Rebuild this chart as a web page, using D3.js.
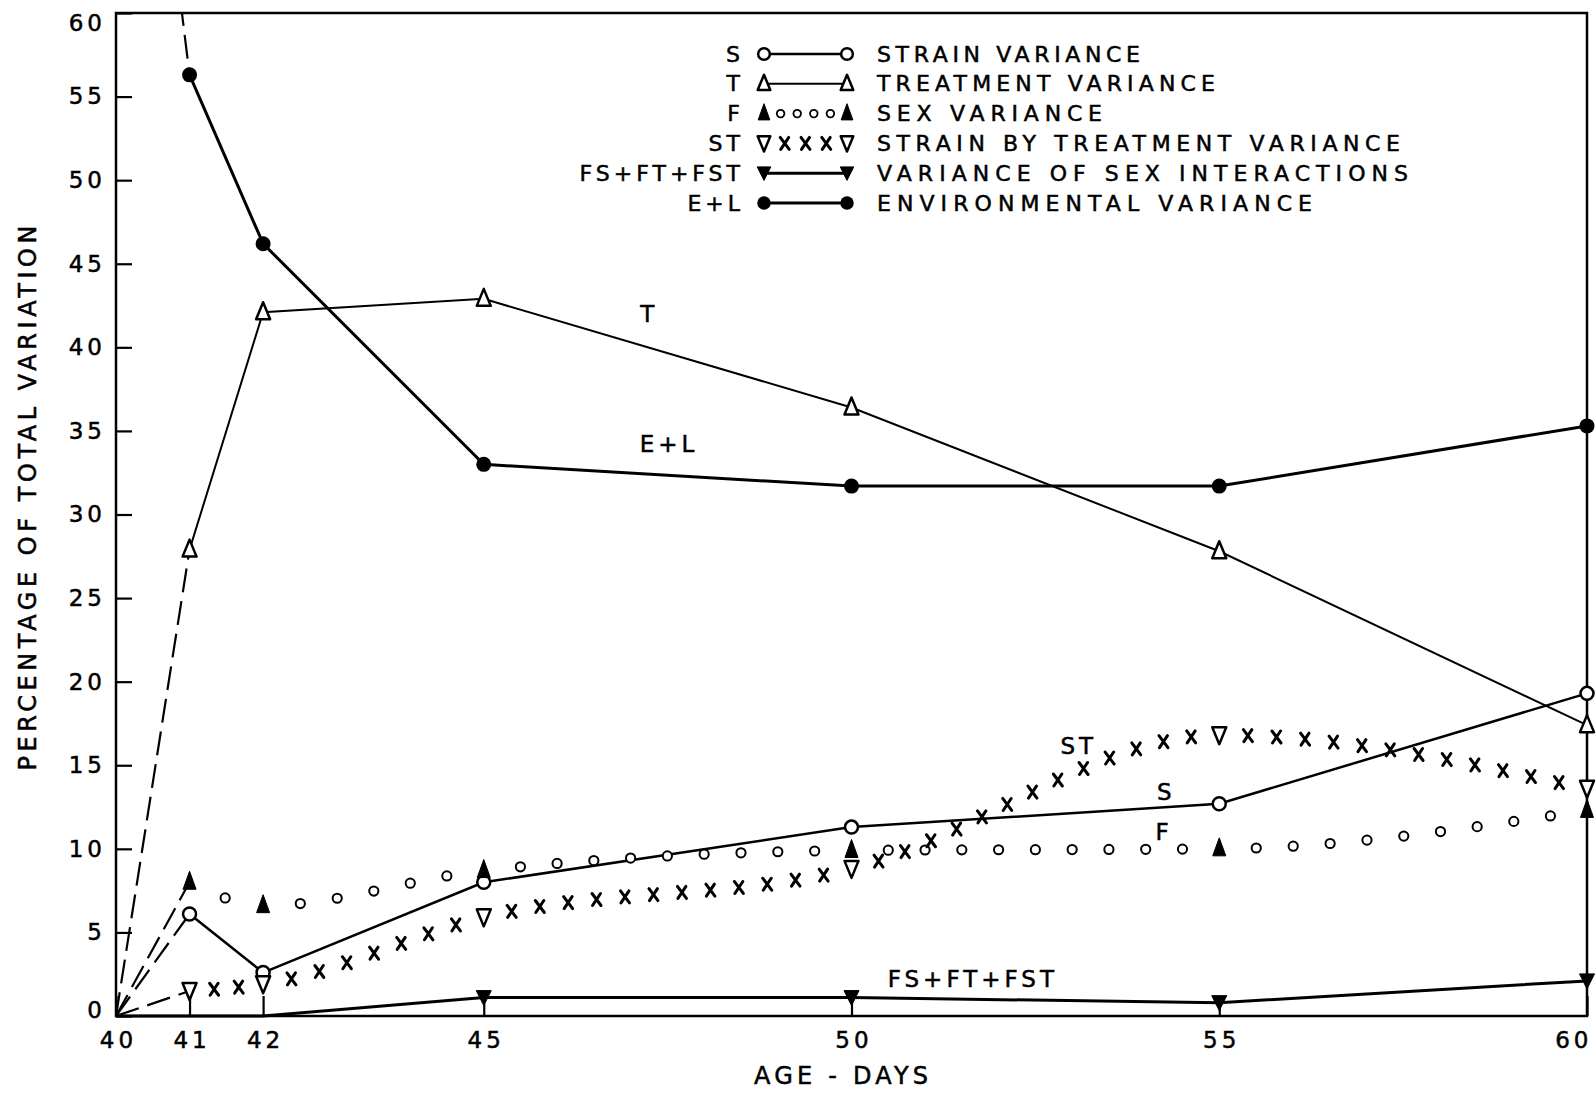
<!DOCTYPE html>
<html>
<head>
<meta charset="utf-8">
<script src="https://cdn.jsdelivr.net/npm/d3@7"></script>
<style>
  body { margin: 0; background: #fff; }
  svg { display: block; font-family: 'DejaVu Sans', sans-serif; }
  svg text { stroke: #000; stroke-width: 0.5px; }
</style>
</head>
<body>
<div id="chart"></div>
<script>
// ---- data (percentage of total variation) ----
const days = [41, 42, 45, 50, 55, 60];
const strainVar = [6.1, 2.6, 8.0, 11.3, 12.7, 19.3];
const treatmentVar = [27.9, 42.1, 42.9, 36.4, 27.8, 17.4];
const sexVar = [8.0, 6.6, 8.7, 9.9, 10.0, 12.3];
const strainTreatVar = [1.5, 1.9, 5.9, 8.8, 16.8, 13.6];
const sexInterVar = [0, 0, 1.1, 1.1, 0.8, 2.1];
const envVar = [56.3, 46.2, 33.0, 31.7, 31.7, 35.3];

// values at day 40, joined to day 41 by dashed lines
const startDay = 40;
const startValues = [0, 0, 0, 0, 0, 92];

const seriesKeys = ['S', 'T', 'F', 'ST', 'FS+FT+FST', 'E+L'];
const seriesNames = ['STRAIN VARIANCE', 'TREATMENT VARIANCE', 'SEX VARIANCE',
  'STRAIN BY TREATMENT VARIANCE', 'VARIANCE OF SEX INTERACTIONS', 'ENVIRONMENTAL VARIANCE'];

const xTicks = [40, 41, 42, 45, 50, 55, 60];
const yTicks = [0, 5, 10, 15, 20, 25, 30, 35, 40, 45, 50, 55, 60];

// in-plot labels, in data units
const noteText = ['T', 'E+L', 'ST', 'S', 'F', 'FS+FT+FST'];
const noteDay = [47.25, 47.52, 53.09, 54.28, 54.25, 51.65];
const noteValue = [42.0, 34.2, 16.15, 13.4, 11.0, 2.2];

// ---- layout ----
const W = 1596, H = 1093;
const margin = { top: 13, right: 9, bottom: 77, left: 116 };
const width = W - margin.left - margin.right;
const height = H - margin.top - margin.bottom;

const svg = d3.select('#chart').append('svg')
  .attr('width', W).attr('height', H);

const g = svg.append('g')
  .attr('transform', `translate(${margin.left},${margin.top})`);

const x = d3.scaleLinear().domain([40, 60]).range([0, width]);
const y = d3.scaleLinear().domain([0, 60]).range([height, 0]);

g.append('clipPath').attr('id', 'plot-clip')
  .append('rect').attr('width', width).attr('height', height);

// style table built from the arrays above
const styles = [
  { marker: 'circleOpen', line: 'solid', lw: 2.5 },
  { marker: 'triUpOpen', line: 'solid', lw: 2 },
  { marker: 'triUpFilled', line: 'circles', lw: 2 },
  { marker: 'triDownOpen', line: 'crosses', lw: 2 },
  { marker: 'triDownFilled', line: 'solid', lw: 3, solidStart: true },
  { marker: 'circleFilled', line: 'solid', lw: 3 }
];
const series = [strainVar, treatmentVar, sexVar, strainTreatVar, sexInterVar, envVar]
  .map((vals, i) => ({
    key: seriesKeys[i],
    name: seriesNames[i],
    points: days.map((d, j) => ({ day: d, value: vals[j] })),
    start: { day: startDay, value: startValues[i] },
    ...styles[i]
  }));

// ---- axes ----
const xAxis = g.append('g')
  .attr('transform', `translate(0,${height})`)
  .call(d3.axisBottom(x).tickValues(xTicks).tickSize(-20).tickSizeOuter(0).tickPadding(16));

const yAxis = g.append('g')
  .call(d3.axisLeft(y).tickValues(yTicks).tickSize(-16).tickSizeOuter(0).tickPadding(10));

[xAxis, yAxis].forEach(a => {
  a.select('.domain').remove();
  a.selectAll('.tick line').attr('stroke', '#000').attr('stroke-width', 2.2);
  a.selectAll('.tick text')
    .attr('font-size', 23)
    .attr('font-family', "'DejaVu Sans', sans-serif")
    .attr('fill', '#000')
    .style('letter-spacing', '4px');
});
xAxis.selectAll('.tick text').attr('dx', 2);
xAxis.selectAll('.tick text').filter(d => d === 60)
  .attr('text-anchor', 'end').attr('dx', margin.right - 4);
yAxis.selectAll('.tick text').filter(d => d === 60).attr('y', 10);
yAxis.selectAll('.tick text').filter(d => d === 0).attr('y', -6);

// frame
g.append('rect')
  .attr('width', width).attr('height', height)
  .attr('fill', 'none').attr('stroke', '#000').attr('stroke-width', 2.5);

// axis titles
svg.append('text')
  .attr('x', 841).attr('y', 1084)
  .attr('text-anchor', 'middle')
  .attr('font-size', 24)
  .attr('textLength', 174).attr('lengthAdjust', 'spacing')
  .text('AGE - DAYS');

svg.append('text')
  .attr('transform', 'translate(36,498) rotate(-90)')
  .attr('text-anchor', 'middle')
  .attr('font-size', 24)
  .attr('textLength', 545).attr('lengthAdjust', 'spacing')
  .text('PERCENTAGE OF TOTAL VARIATION');

// ---- marks ----
const line = d3.line().x(d => x(d.day)).y(d => y(d.value));
const smooth = d3.line().x(d => x(d.day)).y(d => y(d.value)).curve(d3.curveMonotoneX);

function drawMarker(sel, type, scale = 1) {
  const k = scale;
  if (type === 'circleOpen') {
    sel.append('circle').attr('r', 6.5 * k).attr('fill', '#fff').attr('stroke', '#000').attr('stroke-width', 2.5);
  } else if (type === 'circleFilled') {
    sel.append('circle').attr('r', 7.5 * k).attr('fill', '#000');
  } else if (type === 'triUpOpen') {
    sel.append('path').attr('d', `M0,${-10 * k}L${7 * k},${7 * k}L${-7 * k},${7 * k}Z`)
      .attr('fill', '#fff').attr('stroke', '#000').attr('stroke-width', 2.5).attr('stroke-linejoin', 'round');
  } else if (type === 'triUpFilled') {
    sel.append('path').attr('d', `M0,${-11 * k}L${6.5 * k},${7 * k}L${-6.5 * k},${7 * k}Z`)
      .attr('fill', '#000').attr('stroke', '#000').attr('stroke-width', 1);
  } else if (type === 'triDownOpen') {
    sel.append('path').attr('d', `M${-7 * k},${-8 * k}L${7 * k},${-8 * k}L0,${9 * k}Z`)
      .attr('fill', '#fff').attr('stroke', '#000').attr('stroke-width', 2.5).attr('stroke-linejoin', 'round');
  } else if (type === 'triDownFilled') {
    sel.append('path').attr('d', `M${-7.5 * k},${-7 * k}L${7.5 * k},${-7 * k}L0,${8 * k}Z`)
      .attr('fill', '#000').attr('stroke', '#000').attr('stroke-width', 1);
  }
}

function smallCircle(sel) {
  sel.append('circle').attr('r', 4.6).attr('fill', '#fff').attr('stroke', '#000').attr('stroke-width', 2);
}
function cross(sel) {
  sel.append('path').attr('d', 'M-4.5,-6L4.5,6M4,-6L-4,6')
    .attr('stroke', '#000').attr('stroke-width', 3).attr('stroke-linecap', 'round');
}

// put decorations evenly along a curve, between successive data days
function pointsAlong(node, xs, spacing) {
  const total = node.getTotalLength();
  const lenAt = xv => {
    let lo = 0, hi = total;
    for (let i = 0; i < 40; i++) {
      const mid = (lo + hi) / 2;
      if (node.getPointAtLength(mid).x < xv) lo = mid; else hi = mid;
    }
    return lo;
  };
  const ls = xs.map(lenAt);
  const out = [];
  for (let i = 0; i < ls.length - 1; i++) {
    const seg = ls[i + 1] - ls[i];
    const n = Math.max(1, Math.round(seg / spacing));
    for (let k = 1; k < n; k++) out.push(node.getPointAtLength(ls[i] + seg * k / n));
  }
  return out;
}

const lines = g.append('g');
const decor = g.append('g');
const marks = g.append('g');

series.forEach(s => {
  // start segment from day 40
  if (s.solidStart) {
    lines.append('path')
      .datum([s.start, ...s.points])
      .attr('d', line)
      .attr('fill', 'none').attr('stroke', '#000').attr('stroke-width', s.lw);
  } else {
    lines.append('path')
      .datum([s.start, s.points[0]])
      .attr('d', line)
      .attr('clip-path', 'url(#plot-clip)')
      .attr('fill', 'none').attr('stroke', '#000').attr('stroke-width', 2.2)
      .attr('stroke-dasharray', '24,9');
  }

  if (s.line === 'solid' && !s.solidStart) {
    lines.append('path')
      .datum(s.points)
      .attr('d', line)
      .attr('fill', 'none').attr('stroke', '#000').attr('stroke-width', s.lw);
  } else if (s.line === 'circles' || s.line === 'crosses') {
    const guide = decor.append('path')
      .datum(s.points)
      .attr('d', smooth)
      .attr('fill', 'none').attr('stroke', 'none');
    const pts = pointsAlong(guide.node(), s.points.map(d => x(d.day)), s.line === 'circles' ? 37 : 29);
    decor.selectAll(null)
      .data(pts)
      .join('g')
      .attr('transform', p => `translate(${p.x},${p.y})`)
      .each(function () { (s.line === 'circles' ? smallCircle : cross)(d3.select(this)); });
  }
});

series.forEach(s => {
  marks.selectAll(null)
    .data(s.points.filter(d => d.value > 0))
    .join('g')
    .attr('transform', d => `translate(${x(d.day)},${y(d.value)})`)
    .each(function () { drawMarker(d3.select(this), s.marker); });
});

// in-plot labels
g.append('g').selectAll('text')
  .data(noteText)
  .join('text')
  .attr('x', (d, i) => x(noteDay[i]))
  .attr('y', (d, i) => y(noteValue[i]))
  .attr('text-anchor', 'middle')
  .attr('dominant-baseline', 'central')
  .attr('font-size', 23)
  .style('letter-spacing', '4px')
  .text(d => d);

// ---- legend ----
const legendWidths = [263, 338, 225, 523, 531, 435];
const legend = svg.append('g');
const rowY = i => 54 + i * 29.8;
const mLeft = 764, mRight = 847;

series.forEach((s, i) => {
  const row = legend.append('g').attr('transform', `translate(0,${rowY(i)})`);
  row.append('text')
    .attr('x', 744).attr('text-anchor', 'end')
    .attr('dominant-baseline', 'central')
    .attr('font-size', 22)
    .style('letter-spacing', '4px')
    .text(s.key);
  row.append('text')
    .attr('x', 877)
    .attr('dominant-baseline', 'central')
    .attr('font-size', 22)
    .attr('textLength', legendWidths[i]).attr('lengthAdjust', 'spacing')
    .text(s.name);

  if (s.line === 'solid') {
    row.append('line')
      .attr('x1', mLeft).attr('x2', mRight)
      .attr('stroke', '#000').attr('stroke-width', s.lw);
  } else {
    const n = s.line === 'circles' ? 4 : 3;
    d3.range(1, n + 1).forEach(k => {
      const dg = row.append('g').attr('transform', `translate(${mLeft + (mRight - mLeft) * k / (n + 1)},0)`);
      if (s.line === 'circles') {
        dg.append('circle').attr('r', 3.8).attr('fill', '#fff').attr('stroke', '#000').attr('stroke-width', 1.8);
      } else {
        cross(dg);
      }
    });
  }
  [mLeft, mRight].forEach(mx => {
    drawMarker(row.append('g').attr('transform', `translate(${mx},0)`), s.marker, 0.9);
  });
});
</script>
</body>
</html>
